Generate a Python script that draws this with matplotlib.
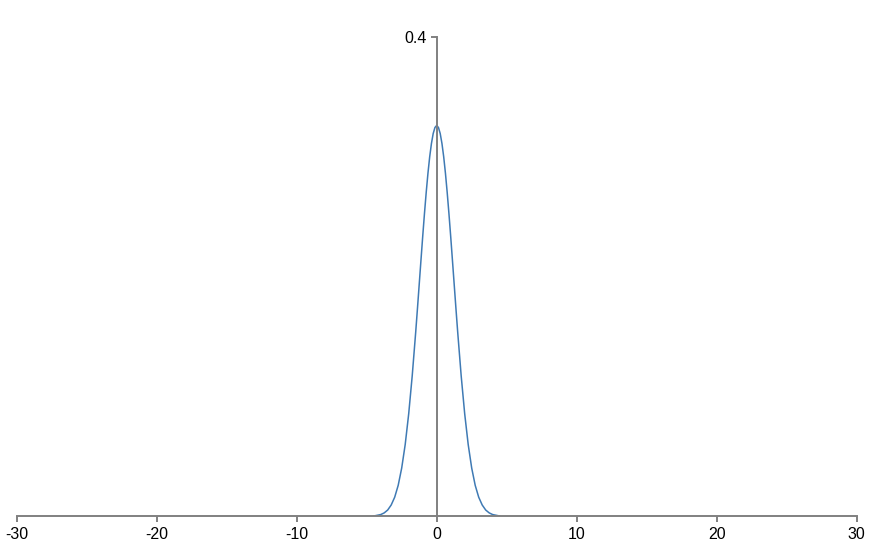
import numpy as np
import matplotlib
matplotlib.use('Agg')
import matplotlib.pyplot as plt

plt.rcParams['font.family'] = ['Liberation Sans', 'DejaVu Sans']
plt.rcParams['axes.unicode_minus'] = False

# curve
x_vals = [-4.5, -4.0, -3.75, -3.5, -3.25, -3.0, -2.75, -2.5, -2.25, -2.0, -1.75,
          -1.5, -1.375, -1.25, -1.125, -1.0, -0.875, -0.75, -0.625, -0.5, -0.375,
          -0.25, -0.125, 0.0, 0.125, 0.25, 0.375, 0.5, 0.625, 0.75, 0.875, 1.0,
          1.125, 1.25, 1.375, 1.5, 1.75, 2.0, 2.25, 2.5, 2.75, 3.0, 3.25, 3.5,
          3.75, 4.0, 4.5]
y_vals = [0.0004, 0.0016, 0.0030, 0.0054, 0.0096, 0.0161, 0.0260, 0.0404, 0.0600,
          0.0856, 0.1171, 0.1537, 0.1733, 0.1934, 0.2135, 0.2334, 0.2524, 0.2701,
          0.2861, 0.2999, 0.3110, 0.3193, 0.3243, 0.3260, 0.3243, 0.3193, 0.3110,
          0.2999, 0.2861, 0.2701, 0.2524, 0.2334, 0.2135, 0.1934, 0.1733, 0.1537,
          0.1171, 0.0856, 0.0600, 0.0404, 0.0260, 0.0161, 0.0096, 0.0054, 0.0030,
          0.0016, 0.0004]

x_ticks = [-30, -20, -10, 0, 10, 20, 30]
y_ticks = [0.4]

fig = plt.figure(figsize=(8.71, 5.5), dpi=100)
ax = fig.add_axes([0.01917, 0.06091, 0.96441, 0.87236])

ax.plot(x_vals, y_vals, color='#3f7ab4', lw=1.1)

ax.set_xlim(-30, 30)
ax.set_ylim(0, 0.4)

ax.spines['top'].set_visible(False)
ax.spines['right'].set_visible(False)
ax.spines['left'].set_position(('data', 0))
for s in ['left', 'bottom']:
    ax.spines[s].set_color('#808080')
    ax.spines[s].set_linewidth(1.4)

ax.set_xticks(x_ticks)
ax.set_xticklabels([str(t) for t in x_ticks])
ax.set_yticks(y_ticks)
ax.set_yticklabels(['0.4'])
ax.tick_params(axis='both', color='#808080', width=1.4, length=4.3,
               labelsize=11.5, labelcolor='black')
ax.tick_params(axis='x', pad=3.5)
ax.tick_params(axis='y', pad=3.0)

fig.savefig('out.png', dpi=100)
